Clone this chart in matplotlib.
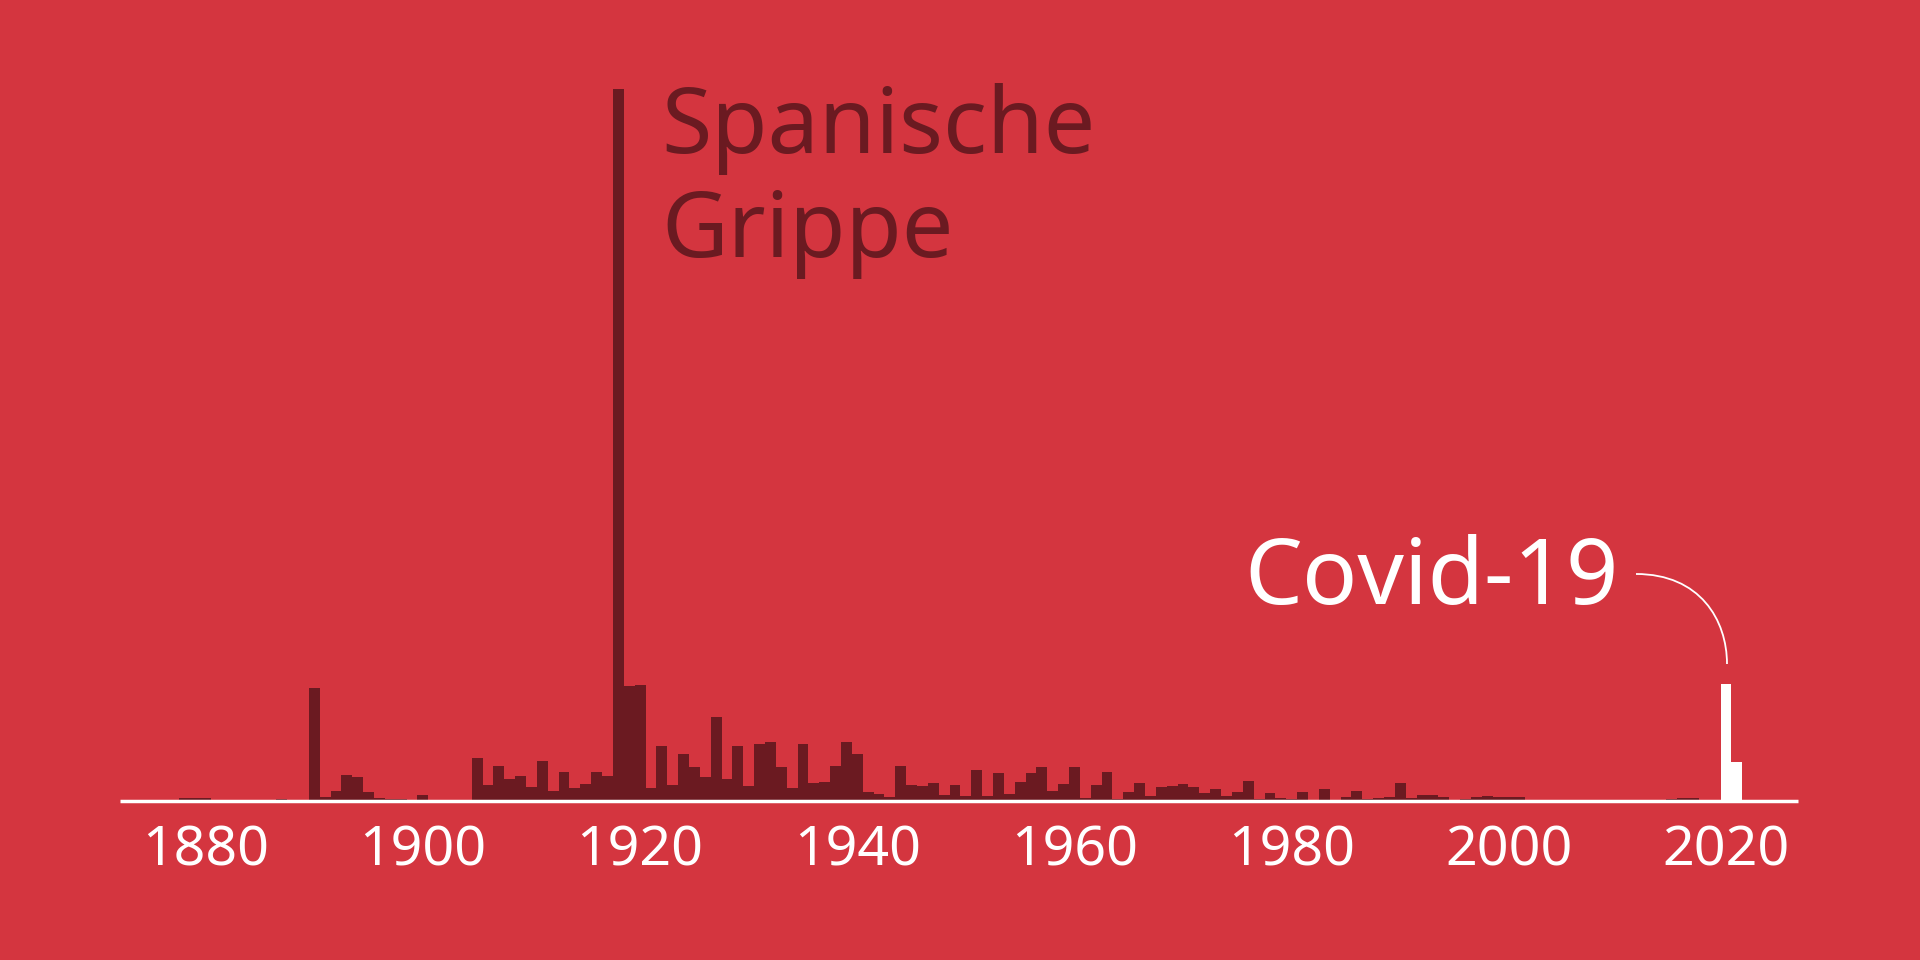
import matplotlib
matplotlib.use("Agg")
import matplotlib.pyplot as plt
from matplotlib.path import Path
from matplotlib.patches import PathPatch

years = list(range(1878, 2022))
vals_1878_1923 = [3, 3, 3, 1, 1, 1, 1, 1, 1, 2, 0.5, 0.5,
                  113, 4, 10, 26, 24, 9, 2.5, 2, 2, 0.5, 6, 0.5, 0.5, 1, 0.5,
                  43, 16, 35, 22, 25, 14, 40, 10, 29, 13, 17, 29, 25,
                  712, 115, 116, 13, 55, 16]
vals_1924_1964 = [47, 34, 24, 84, 22, 55, 15, 57, 59, 34, 13, 57, 18, 19, 35, 59,
                  47, 9, 7, 4, 35, 16, 15, 18, 6, 16, 5, 31, 5, 28, 7, 19, 28, 34,
                  10, 17, 34, 3, 16, 29, 2]
vals_1965_2001 = [9, 18, 5, 14, 15, 17, 14, 8, 12, 5, 9, 20, 2, 8, 3, 2, 9, 1, 12,
                  1, 4, 10, 2, 3, 4, 18, 3, 6, 6, 4, 1, 2, 4, 5, 4, 4, 4]
vals_2002_2019 = [0, 0, 0, 0, 1, 0, 0, 0, 0, 0, 0, 0, 0, 2, 3, 3, 0, 0]
vals_covid = [117, 39]
values = vals_1878_1923 + vals_1924_1964 + vals_1965_2001 + vals_2002_2019 + vals_covid
covid_years = [2020, 2021]
tick_years = [1880, 1900, 1920, 1940, 1960, 1980, 2000, 2020]

BG = "#d4353f"
DARK = "#6b1a21"

fig = plt.figure(figsize=(19.2, 9.6), dpi=100, facecolor=BG)
ax = fig.add_axes([0, 1 - 800.7 / 960, 1, 800.7 / 960])
ax.set_facecolor(BG)
ax.set_xlim(1861.06, 2037.86)
ax.set_ylim(0, 800.7)
cols = ["white" if y in covid_years else DARK for y in years]
ax.bar(years, values, width=1.0, color=cols, linewidth=0)
ax.plot([1872.1, 2026.6], [0, 0], color="white", lw=2.5, clip_on=False, solid_capstyle="butt")
for s in ax.spines.values():
    s.set_visible(False)
ax.set_xticks([])
ax.set_yticks([])
for t in tick_years:
    ax.text(t, -50, str(t), ha="center", va="center", color="white",
            fontsize=40, family="Noto Sans", fontweight="light", clip_on=False)

fig.text(661 / 1920, 1 - 153 / 960, "Spanische", color=DARK, fontsize=66,
         fontweight="bold", family="Noto Sans", ha="left", va="baseline")
fig.text(661 / 1920, 1 - 257 / 960, "Gripppe"[:0] + "Grippe", color=DARK, fontsize=66,
         fontweight="bold", family="Noto Sans", ha="left", va="baseline")
fig.text(1619 / 1920, 1 - 604 / 960, "Covid-19", color="white", fontsize=66,
         fontweight="bold", family="Noto Sans", ha="right", va="baseline")

pts = [(1636, 574), (1700, 574), (1727, 620), (1727, 664)]
pts = [(x, 960 - y) for x, y in pts]
path = Path(pts, [Path.MOVETO, Path.CURVE4, Path.CURVE4, Path.CURVE4])
fig.patches.append(PathPatch(path, transform=None, fill=False, edgecolor="white", lw=1.3))

fig.savefig("out.png", dpi=100, facecolor=BG)
